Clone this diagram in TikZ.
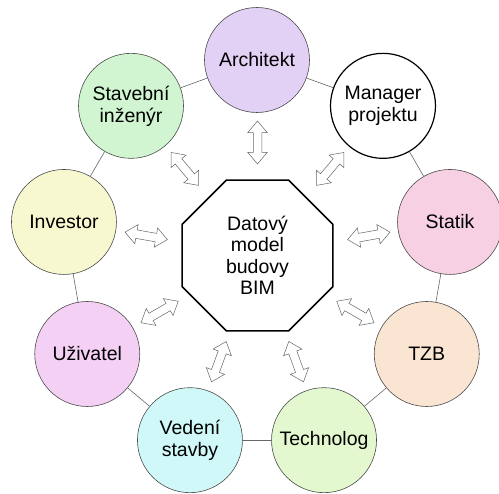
\documentclass[tikz,border=0pt]{standalone}
\usepackage{fontspec}
\setmainfont{Liberation Sans}
\usetikzlibrary{shapes.geometric,shapes.arrows}
\definecolor{archcol}{RGB}{226,208,245}
\definecolor{statcol}{RGB}{248,208,228}
\definecolor{tzbcol}{RGB}{250,228,210}
\definecolor{techcol}{RGB}{228,248,208}
\definecolor{vedcol}{RGB}{208,248,248}
\definecolor{uzivcol}{RGB}{245,208,245}
\definecolor{invcol}{RGB}{248,248,208}
\definecolor{stavcol}{RGB}{208,245,208}
\tikzset{
  member/.style={circle, draw=black!70, line width=0.6pt, minimum size=105pt,
    inner sep=0pt, align=center, font=\fontsize{19.5}{22}\selectfont},
  link/.style={draw=black!60, line width=0.6pt},
  biarrow/.style={double arrow, draw=black!60, fill=white, line width=0.5pt,
    minimum height=43pt, inner sep=4pt, double arrow head extend=5.5pt,
    double arrow tip angle=80},
}
\begin{document}
\begin{tikzpicture}[x=1pt,y=1pt]
  \useasboundingbox (0,0) rectangle (499,494);
  \coordinate (c) at (257,238);
  % datovy model
  \node[regular polygon, regular polygon sides=8, draw, line width=1.5pt,
    minimum size=163pt, inner sep=0pt, align=center,
    font=\fontsize{19.5}{21.5}\selectfont] (bim) at (257.5,238.5)
    {Datový\\model\\budovy\\BIM};
  % ucastnici
  \node[member, fill=archcol] (architekt) at ([shift={(90:196)}]c) {Architekt};
  \node[member, fill=white, draw=black, line width=1.2pt] (manager) at ([shift={(50:196)}]c) {Manager\\projektu};
  \node[member, fill=statcol] (statik) at ([shift={(10:196)}]c) {Statik};
  \node[member, fill=tzbcol] (tzb) at ([shift={(-30:196)}]c) {TZB};
  \node[member, fill=techcol] (technolog) at ([shift={(-70:196)}]c) {Technolog};
  \node[member, fill=vedcol] (vedeni) at ([shift={(-110:196)}]c) {Vedení\\stavby};
  \node[member, fill=uzivcol] (uzivatel) at ([shift={(-150:196)}]c) {Uživatel};
  \node[member, fill=invcol] (investor) at ([shift={(170:196)}]c) {Investor};
  \node[member, fill=stavcol] (stavebni) at ([shift={(130:196)}]c) {Stavební\\inženýr};
  % kruh
  \foreach \a/\b in {architekt/manager, manager/statik, statik/tzb, tzb/technolog,
      technolog/vedeni, vedeni/uzivatel, uzivatel/investor, investor/stavebni,
      stavebni/architekt}
    \draw[link] (\a) -- (\b);
  % sipky
  \foreach \ang in {90,50,10,-30,-70,-110,-150,170,130}
    \node[biarrow, rotate=\ang] (arr\ang) at ([shift={(\ang:113)}]bim.center) {};
\end{tikzpicture}
\end{document}
